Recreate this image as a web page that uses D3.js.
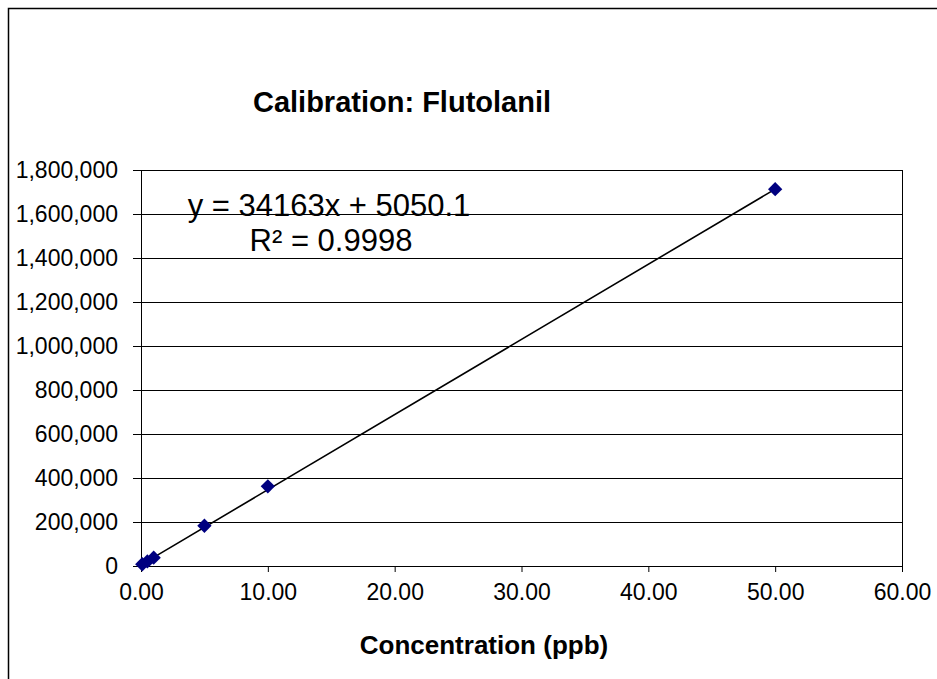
<!DOCTYPE html>
<html>
<head>
<meta charset="utf-8">
<script src="https://cdn.jsdelivr.net/npm/d3@7"></script>
<style>
  body { margin: 0; background: #fff; }
  text { font-family: "Liberation Sans", Arial, sans-serif; fill: #000; }
</style>
</head>
<body>
<div id="plot"></div>
<script>
// Calibration data
var concentrations = [0.1, 0.5, 1.0, 5.0, 10.0, 50.0];
var responses = [8000, 21000, 38000, 183000, 362000, 1713000];
var xTicks = [0, 10, 20, 30, 40, 50, 60];
var yTicks = [0, 200000, 400000, 600000, 800000, 1000000, 1200000, 1400000, 1600000, 1800000];
var slope = 34163, intercept = 5050.1, r2 = 0.9998;

var W = 937, H = 679;
var margin = {top: 170, right: 35, bottom: 113, left: 141},
    width = W - margin.left - margin.right,
    height = H - margin.top - margin.bottom;

var svg = d3.select("#plot").append("svg")
  .attr("width", W).attr("height", H);

// outer chart border
svg.append("rect")
  .attr("x", 8.5).attr("y", 8.5)
  .attr("width", W + 20).attr("height", H + 20)
  .attr("fill", "none").attr("stroke", "#000").attr("stroke-width", 1.5);

var g = svg.append("g")
  .attr("transform", "translate(" + margin.left + "," + margin.top + ")");

var x = d3.scaleLinear().domain([0, 60]).range([0, width]);
var y = d3.scaleLinear().domain([0, 1800000]).range([height, 0]);

// gridlines
g.append("g").selectAll("line")
  .data(yTicks)
  .enter().append("line")
    .attr("x1", 0).attr("x2", width)
    .attr("y1", function(d){ return Math.round(y(d)) + 0.5; })
    .attr("y2", function(d){ return Math.round(y(d)) + 0.5; })
    .attr("stroke", "#000").attr("stroke-width", 1);

// plot area right border
g.append("line")
  .attr("x1", width + 0.5).attr("x2", width + 0.5)
  .attr("y1", 0).attr("y2", height)
  .attr("stroke", "#000");

// axes
var xAxis = g.append("g")
  .attr("transform", "translate(0," + height + ")")
  .call(d3.axisBottom(x).tickValues(xTicks).tickSize(6).tickPadding(12)
        .tickFormat(d3.format(".2f")));
var yAxis = g.append("g")
  .call(d3.axisLeft(y).tickValues(yTicks).tickSize(8).tickPadding(15)
        .tickFormat(d3.format(",")));
[xAxis, yAxis].forEach(function(a){
  a.select(".domain").attr("stroke", "#000");
  a.selectAll(".tick line").attr("stroke", "#000");
  a.selectAll(".tick text")
    .style("font-family", "'Liberation Sans', Arial, sans-serif")
    .style("font-size", "23px").attr("fill", "#000");
});

// trendline
var xMax = d3.max(concentrations);
g.append("line")
  .attr("x1", x(0)).attr("y1", y(intercept))
  .attr("x2", x(xMax)).attr("y2", y(slope * xMax + intercept))
  .attr("stroke", "#000").attr("stroke-width", 1.6);

// points
var pts = concentrations.map(function(c, i){ return {c: c, r: responses[i]}; });
g.selectAll(".pt")
  .data(pts)
  .enter().append("path")
    .attr("class", "pt")
    .attr("d", d3.symbol().type(d3.symbolDiamond2).size(130))
    .attr("transform", function(d){ return "translate(" + x(d.c) + "," + y(d.r) + ")"; })
    .attr("fill", "#000080");

// title
svg.append("text")
  .attr("x", 402).attr("y", 112)
  .attr("text-anchor", "middle")
  .style("font-size", "29px").style("font-weight", "bold")
  .text("Calibration: Flutolanil");

// equation
svg.append("text")
  .attr("x", 329).attr("y", 216)
  .attr("text-anchor", "middle")
  .style("font-size", "31px")
  .text("y = " + slope + "x + " + intercept);
svg.append("text")
  .attr("x", 331).attr("y", 251)
  .attr("text-anchor", "middle")
  .style("font-size", "31px")
  .text("R² = " + r2);

// x axis title
svg.append("text")
  .attr("x", 484).attr("y", 654)
  .attr("text-anchor", "middle")
  .style("font-size", "26px").style("font-weight", "bold")
  .text("Concentration (ppb)");
</script>
</body>
</html>
